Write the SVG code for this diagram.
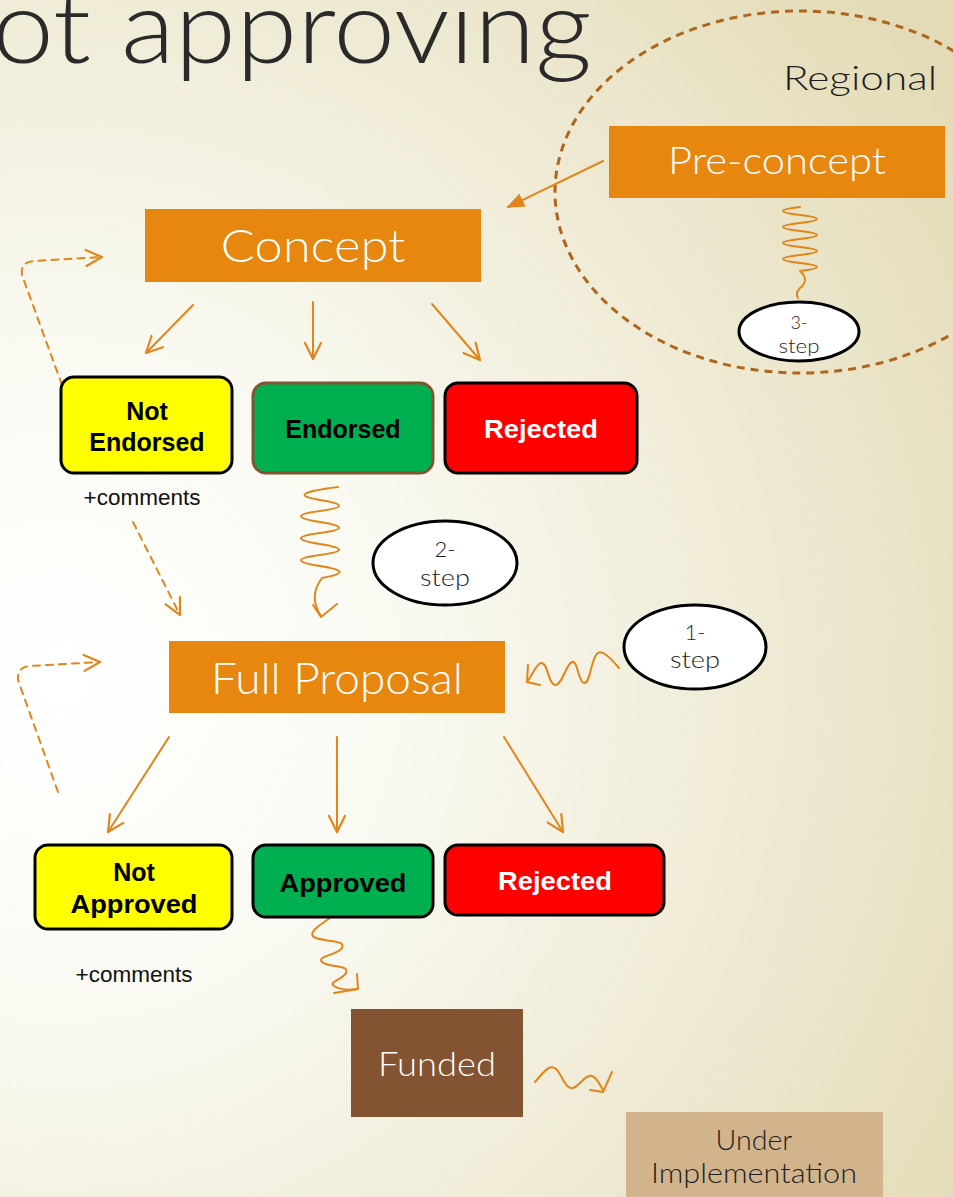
<svg xmlns="http://www.w3.org/2000/svg" width="953" height="1197" viewBox="0 0 953 1197">
  <defs>
    <radialGradient id="bg" gradientUnits="userSpaceOnUse" cx="60" cy="680" r="1080">
      <stop offset="0" stop-color="#ffffff"/>
      <stop offset="0.3" stop-color="#fafaf3"/>
      <stop offset="1" stop-color="#e3dbb6"/>
    </radialGradient>
    <marker id="open" viewBox="0 0 20 20" refX="18" refY="10" markerWidth="20" markerHeight="20" markerUnits="userSpaceOnUse" orient="auto">
      <path d="M 2 2 L 18 10 L 2 18" fill="none" stroke="#e0861c" stroke-width="2.2" stroke-linecap="round" stroke-linejoin="round"/>
    </marker>
    <marker id="filled" viewBox="0 0 20 20" refX="18" refY="10" markerWidth="18" markerHeight="18" markerUnits="userSpaceOnUse" orient="auto">
      <path d="M 0 2 L 20 10 L 0 18 Z" fill="#e0861c"/>
    </marker>
  </defs>
  <style>
    .orange { fill: #e8870f; }
    .title { font-family: Lato, "Liberation Sans", sans-serif; font-weight: 300; fill: #ffffff; text-anchor: middle; }
    .dark { font-family: Lato, "Liberation Sans", sans-serif; fill: #1e1e1e; text-anchor: middle; }
    .box { stroke-width: 3; }
    .bold { font-family: "Liberation Sans", Arial, sans-serif; font-weight: bold; font-size: 25px; text-anchor: middle; }
    .plain { font-family: "Liberation Sans", Arial, sans-serif; font-size: 22.5px; fill: #111; text-anchor: middle; }
    .bubble { fill: #ffffff; stroke: #000000; stroke-width: 3; }
    .conn { fill: none; stroke: #e0861c; stroke-width: 2; stroke-linecap: round; stroke-linejoin: round; }
    .dash { stroke-dasharray: 7 6; }
    .bigdash { fill: none; stroke: #b0651c; stroke-width: 3; stroke-dasharray: 8 6; }
  </style>

  <rect x="0" y="0" width="953" height="1197" fill="url(#bg)"/>

  <text x="592" y="63" font-family="Lato, 'Liberation Sans', sans-serif" font-weight="300" font-size="102" fill="#2a2a2a" text-anchor="end" textLength="600" lengthAdjust="spacingAndGlyphs">ot approving</text>

  <g id="regional-zone">
    <ellipse cx="800" cy="192" rx="245" ry="181" class="bigdash"/>
    <text x="860" y="90" class="dark" font-size="33" font-weight="300" textLength="154" lengthAdjust="spacingAndGlyphs">Regional</text>
  </g>

  <g id="connectors">
    <!-- Pre-concept to Concept -->
    <line x1="603" y1="161" x2="508" y2="207" class="conn" stroke-width="2.5" marker-end="url(#filled)"/>
    <!-- Pre-concept wave to 3-step -->
    <path class="conn" d="M 800 207 Q 766 211 800 215 T 800 223 T 800 231 T 800 239 T 800 247 T 800 255 T 800 263 T 800 271 Q 810 280 800 288 Q 795 293 798 298"/>
    <!-- Concept outputs -->
    <line x1="193" y1="305" x2="146" y2="353" class="conn" marker-end="url(#open)"/>
    <line x1="313" y1="302" x2="313" y2="359" class="conn" marker-end="url(#open)"/>
    <line x1="432" y1="304" x2="480" y2="360" class="conn" marker-end="url(#open)"/>
    <!-- Loop back to Concept -->
    <path class="conn dash" d="M 62 385 L 22 275 Q 20 262 34 261 L 102 257" marker-end="url(#open)"/>
    <!-- +comments to Full Proposal -->
    <line x1="133" y1="522" x2="180" y2="615" class="conn dash" marker-end="url(#open)"/>
    <!-- Endorsed wave to Full Proposal -->
    <path class="conn" d="M 338 487 Q 282 494 320 500 T 320 511 T 320 522 T 320 533 T 320 544 T 320 555 T 320 566 T 322 578 Q 308 596 321 616"/>
    <path class="conn" d="M 313 605 L 321 617 L 337 604"/>
    <!-- 1-step wave to Full Proposal -->
    <path class="conn" d="M 619 668 C 608 655 600 648 596 655 C 590 665 590 684 584 683 C 578 682 578 660 572 662 C 566 664 562 686 555 685 C 548 684 548 662 541 663 C 536 664 532 676 527 682"/>
    <path class="conn" d="M 528 665 L 527 682 L 540 685"/>
    <!-- Full Proposal outputs -->
    <line x1="169" y1="737" x2="108" y2="832" class="conn" marker-end="url(#open)"/>
    <line x1="337" y1="737" x2="337" y2="832" class="conn" marker-end="url(#open)"/>
    <line x1="504" y1="737" x2="563" y2="832" class="conn" marker-end="url(#open)"/>
    <!-- Loop back to Full Proposal -->
    <path class="conn dash" d="M 58 792 L 18 680 Q 17 667 30 666 L 100 662" marker-end="url(#open)"/>
    <!-- Approved wave to Funded -->
    <path class="conn" d="M 330 918 C 318 926 306 934 316 938 C 328 942 346 940 342 948 C 338 955 316 956 322 962 C 328 968 350 964 346 973 C 342 980 328 982 334 986 C 340 990 350 990 357 989"/>
    <path class="conn" d="M 357 974 L 358 989 L 334 993"/>
    <!-- Funded wave to Under Implementation -->
    <path class="conn" d="M 535 1082 C 545 1070 550 1064 556 1069 C 562 1074 565 1090 573 1088 C 580 1086 585 1074 592 1076 C 598 1078 600 1086 603 1090"/>
    <path class="conn" d="M 590 1090 L 603 1092 L 612 1072"/>
  </g>

  <g id="pre-concept">
    <rect x="609" y="126" width="336" height="72" class="orange"/>
    <text x="777" y="174" class="title" font-size="38" textLength="218" lengthAdjust="spacingAndGlyphs">Pre-concept</text>
  </g>

  <g id="concept">
    <rect x="145" y="209" width="336" height="73" class="orange"/>
    <text x="313" y="262" class="title" font-size="46" textLength="185" lengthAdjust="spacingAndGlyphs">Concept</text>
  </g>

  <g id="three-step">
    <ellipse cx="799" cy="331.5" rx="60" ry="29.5" class="bubble"/>
    <text x="799" y="329" class="dark" font-size="18" font-weight="300">3-</text>
    <text x="799" y="353" class="dark" font-size="19" font-weight="300" textLength="41" lengthAdjust="spacingAndGlyphs">step</text>
  </g>

  <g id="not-endorsed">
    <rect x="61" y="377" width="171" height="96" rx="13" fill="#ffff00" stroke="#000" class="box"/>
    <text x="147" y="420" class="bold" fill="#000">Not</text>
    <text x="147" y="451" class="bold" fill="#000">Endorsed</text>
  </g>

  <g id="endorsed">
    <rect x="253" y="383" width="180" height="90" rx="13" fill="#00b050" stroke="#7f5630" class="box"/>
    <text x="343" y="438" class="bold" fill="#000">Endorsed</text>
  </g>

  <g id="rejected-1">
    <rect x="445" y="383" width="192" height="90" rx="13" fill="#ff0000" stroke="#000" class="box"/>
    <text x="541" y="438" class="bold" fill="#fff" textLength="114" lengthAdjust="spacingAndGlyphs">Rejected</text>
  </g>

  <text x="142" y="505" class="plain">+comments</text>

  <g id="two-step">
    <ellipse cx="445" cy="563" rx="72" ry="42" class="bubble"/>
    <text x="445" y="557" class="dark" font-size="22" font-weight="300">2-</text>
    <text x="445" y="586" class="dark" font-size="23" font-weight="300" textLength="50" lengthAdjust="spacingAndGlyphs">step</text>
  </g>

  <g id="one-step">
    <ellipse cx="695" cy="647" rx="71" ry="42" class="bubble"/>
    <text x="695" y="640" class="dark" font-size="22" font-weight="300">1-</text>
    <text x="695" y="668" class="dark" font-size="23" font-weight="300" textLength="50" lengthAdjust="spacingAndGlyphs">step</text>
  </g>

  <g id="full-proposal">
    <rect x="169" y="641" width="336" height="72" class="orange"/>
    <text x="337" y="694" class="title" font-size="44" textLength="252" lengthAdjust="spacingAndGlyphs">Full Proposal</text>
  </g>

  <g id="not-approved">
    <rect x="35" y="845" width="197" height="84" rx="13" fill="#ffff00" stroke="#000" class="box"/>
    <text x="134" y="881" class="bold" fill="#000">Not</text>
    <text x="134" y="913" class="bold" fill="#000" textLength="127" lengthAdjust="spacingAndGlyphs">Approved</text>
  </g>

  <g id="approved">
    <rect x="253" y="845" width="180" height="72" rx="13" fill="#00b050" stroke="#000" class="box"/>
    <text x="343" y="892" class="bold" fill="#000" textLength="127" lengthAdjust="spacingAndGlyphs">Approved</text>
  </g>

  <g id="rejected-2">
    <rect x="445" y="845" width="219" height="70" rx="13" fill="#ff0000" stroke="#000" class="box"/>
    <text x="555" y="890" class="bold" fill="#fff" textLength="114" lengthAdjust="spacingAndGlyphs">Rejected</text>
  </g>

  <text x="134" y="982" class="plain">+comments</text>

  <g id="funded">
    <rect x="351" y="1009" width="172" height="108" fill="#835332"/>
    <text x="437" y="1076" class="title" font-size="34" textLength="118" lengthAdjust="spacingAndGlyphs">Funded</text>
  </g>

  <g id="under-implementation">
    <rect x="626" y="1112" width="257" height="90" fill="#d2b48c"/>
    <text x="754" y="1150" class="dark" font-size="27" font-weight="300" textLength="77" lengthAdjust="spacingAndGlyphs">Under</text>
    <text x="754" y="1183" class="dark" font-size="27" font-weight="300" textLength="206" lengthAdjust="spacingAndGlyphs">Implementation</text>
  </g>
</svg>
